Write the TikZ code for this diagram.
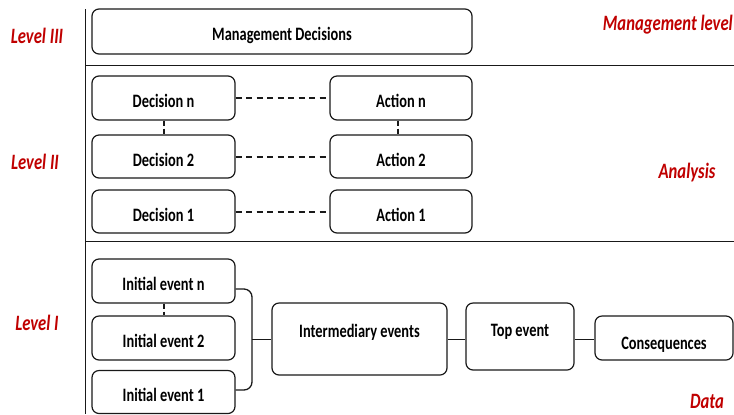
\documentclass[tikz,border=0pt]{standalone}
\usepackage{fontspec}
\setmainfont{Carlito}[FakeStretch=0.76]
\definecolor{lvlred}{HTML}{C00000}
\newcommand\lowtxt[2]{\raisebox{#1}[13pt][0pt]{#2}}
\begin{document}
\begin{tikzpicture}[x=1bp,y=-1bp,
  box/.style={draw=black!90,line width=1.2pt,rounded corners=7bp,inner sep=0pt,font=\fontsize{19}{21}\selectfont\bfseries,align=center},
  lvl/.style={text=lvlred,font=\fontsize{22}{24}\selectfont\bfseries\itshape,inner sep=0pt},
  link/.style={line width=1.3pt,draw=black!90},
  dlink/.style={line width=2pt,draw=black!90,dash pattern=on 6bp off 4.5bp},
  vdlink/.style={line width=2.2pt,draw=black!90,dash pattern=on 5bp off 3bp},
  sep/.style={line width=1.5pt,draw=black!90}]
\useasboundingbox (0,0) rectangle (734,414);
% separators
\coordinate (vtop) at (85.5,9);
\coordinate (vbot) at (85.5,414);
\coordinate (h1l) at (85.5,65.5);
\coordinate (h1r) at (734,65.5);
\coordinate (h2l) at (85.5,241.5);
\coordinate (h2r) at (734,241.5);
\draw[sep] (vtop) -- (vbot);
\draw[sep] (h1l) -- (h1r);
\draw[sep] (h2l) -- (h2r);
% level labels
\node[lvl] (l3) at (37,36) {Level III};
\node[lvl] (l2) at (35,162) {Level II};
\node[lvl] (l1) at (37,323) {Level I};
\node[lvl,anchor=east] (ml) at (733,25) {Management level};
\node[lvl] (an) at (687,173) {Analysis};
\node[lvl] (da) at (707,401) {Data};
% level III
\node[box,minimum width=380bp,minimum height=45bp] (md) at (282,31.5) {\lowtxt{-2.5pt}{Management Decisions}};
% level II
\node[box,minimum width=143bp,minimum height=44bp] (dn) at (163.5,98) {\lowtxt{-3.5pt}{Decision n}};
\node[box,minimum width=143bp,minimum height=43bp] (d2) at (163.5,156.5) {\lowtxt{-3.5pt}{Decision 2}};
\node[box,minimum width=143bp,minimum height=43bp] (d1) at (163.5,211.5) {\lowtxt{-3.5pt}{Decision 1}};
\node[box,minimum width=142bp,minimum height=44bp] (acn) at (401,98) {\lowtxt{-3.5pt}{Action n}};
\node[box,minimum width=142bp,minimum height=43bp] (a2) at (401,156.5) {\lowtxt{-3.5pt}{Action 2}};
\node[box,minimum width=142bp,minimum height=43bp] (a1) at (401,211.5) {\lowtxt{-3.5pt}{Action 1}};
\draw[dlink] (dn.east) -- (acn.west);
\draw[dlink] (d2.east) -- (a2.west);
\draw[dlink] (d1.east) -- (a1.west);
\draw[vdlink] ([xshift=0.5bp]dn.south) -- ([xshift=0.5bp]d2.north);
\draw[vdlink] ([xshift=-3bp]acn.south) -- ([xshift=-3bp]a2.north);
% level I
\node[box,minimum width=143bp,minimum height=44bp] (in) at (163.5,281) {\lowtxt{-3.5pt}{Initial event n}};
\node[box,minimum width=143bp,minimum height=44bp] (i2) at (163.5,338) {\lowtxt{-3.5pt}{Initial event 2}};
\node[box,minimum width=143bp,minimum height=43bp] (i1) at (163.5,392) {\lowtxt{-3.5pt}{Initial event 1}};
\draw[vdlink] ([xshift=0.5bp]in.south) -- ([xshift=0.5bp]i2.north);
\node[box,minimum width=175bp,minimum height=72bp] (ie) at (359.5,339) {\lowtxt{8pt}{Intermediary events}};
\node[box,minimum width=108bp,minimum height=67bp] (te) at (520,336.5) {\lowtxt{6.5pt}{Top event}};
\node[box,minimum width=138bp,minimum height=44bp] (co) at (664,338) {\lowtxt{-5pt}{Consequences}};
\coordinate (bm) at (252,339.5);
\draw[link,rounded corners=8bp] ([yshift=-8bp]in.east) -| (bm) |- ([yshift=2bp]i1.east);
\draw[link] (bm) -- (ie.west |- bm);
\draw[link] (ie.east |- bm) -- (te.west |- bm);
\draw[link] (te.east |- bm) -- (co.west |- bm);
\end{tikzpicture}
\end{document}
